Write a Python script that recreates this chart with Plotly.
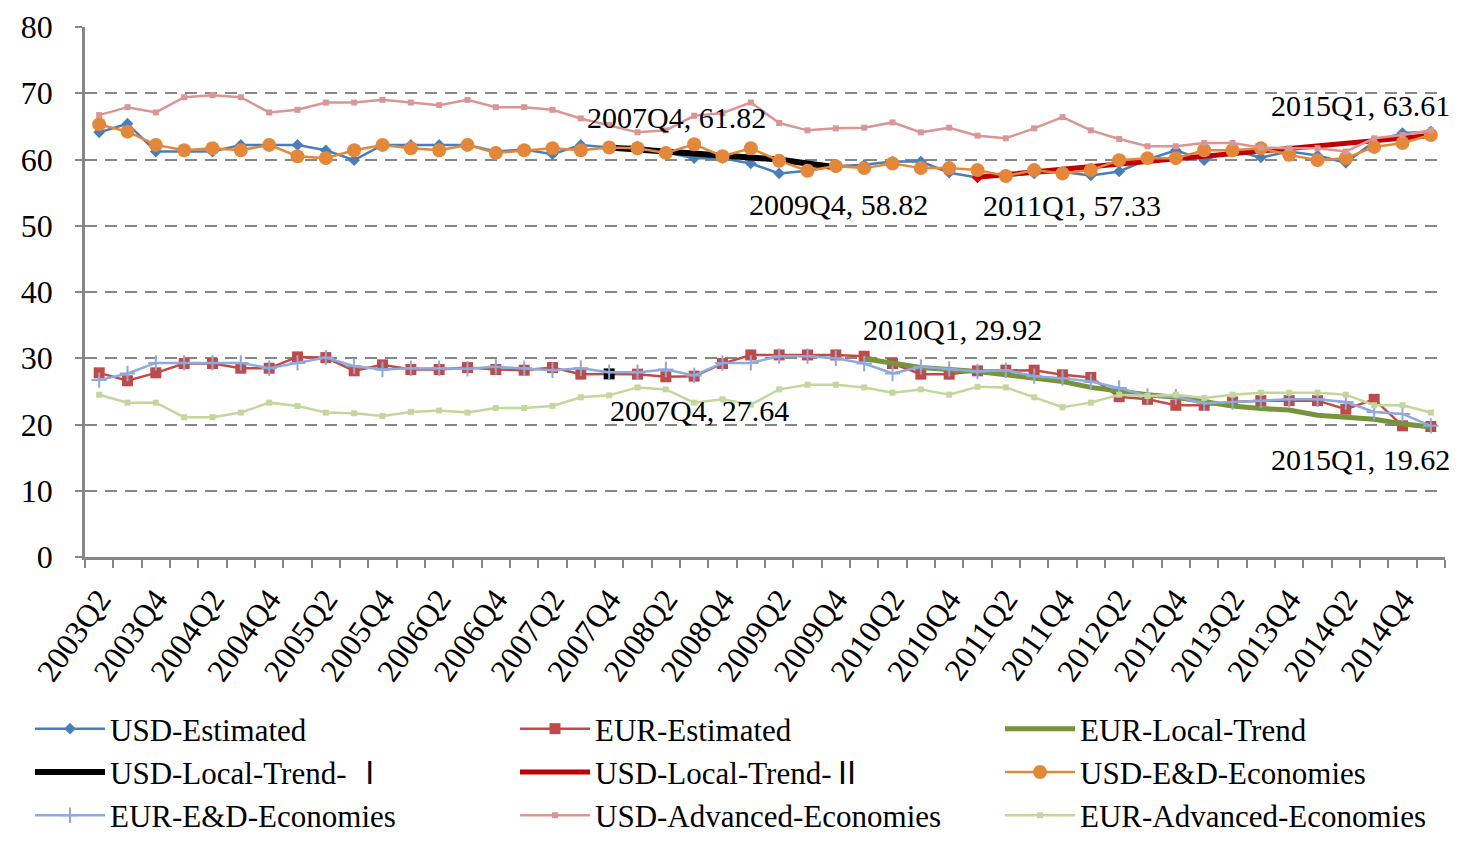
import plotly.graph_objects as go

# ── data ──────────────────────────────────────────────────────────────────────
quarters = [
    "2003Q2", "2003Q3", "2003Q4", "2004Q1", "2004Q2", "2004Q3", "2004Q4",
    "2005Q1", "2005Q2", "2005Q3", "2005Q4", "2006Q1", "2006Q2", "2006Q3",
    "2006Q4", "2007Q1", "2007Q2", "2007Q3", "2007Q4", "2008Q1", "2008Q2",
    "2008Q3", "2008Q4", "2009Q1", "2009Q2", "2009Q3", "2009Q4", "2010Q1",
    "2010Q2", "2010Q3", "2010Q4", "2011Q1", "2011Q2", "2011Q3", "2011Q4",
    "2012Q1", "2012Q2", "2012Q3", "2012Q4", "2013Q1", "2013Q2", "2013Q3",
    "2013Q4", "2014Q1", "2014Q2", "2014Q3", "2014Q4", "2015Q1",
]

usd_estimated = [64.1, 65.4, 61.2, 61.2, 61.2, 62.2, 62.2, 62.2, 61.4, 59.9,
                 62.2, 62.2, 62.2, 62.2, 61.2, 61.5, 60.8, 62.2, 61.8, 62.0,
                 61.1, 60.2, 60.2, 59.4, 57.9, 58.3, 59.0, 59.2, 59.7, 59.7,
                 58.0, 57.3, 57.5, 57.9, 58.1, 57.6, 58.2, 60.0, 61.4, 59.9,
                 61.4, 60.3, 61.2, 60.6, 59.5, 62.7, 64.0, 64.2]
eur_estimated = [27.8, 26.6, 27.8, 29.2, 29.2, 28.5, 28.5, 30.2, 30.1, 28.1,
                 29.0, 28.3, 28.3, 28.6, 28.3, 28.2, 28.6, 27.6, 27.64, 27.6,
                 27.2, 27.3, 29.2, 30.5, 30.5, 30.5, 30.5, 30.3, 29.2, 27.6,
                 27.6, 28.1, 28.2, 28.2, 27.5, 27.1, 24.2, 23.8, 22.9, 22.9,
                 23.4, 23.6, 23.6, 23.6, 22.3, 23.8, 19.8, 19.7]
usd_ed = [65.3, 64.2, 62.2, 61.4, 61.7, 61.4, 62.2, 60.5, 60.2, 61.4,
          62.2, 61.7, 61.4, 62.2, 61.0, 61.4, 61.7, 61.4, 61.82, 61.7,
          61.0, 62.3, 60.5, 61.7, 59.8, 58.3, 59.0, 58.7, 59.4, 58.7,
          58.7, 58.4, 57.5, 58.4, 57.9, 58.4, 59.9, 60.2, 60.2, 61.4,
          61.4, 61.7, 60.7, 59.9, 60.2, 61.9, 62.5, 63.7]
eur_ed = [26.7, 27.7, 29.3, 29.3, 29.3, 29.3, 28.5, 29.3, 30.1, 28.8,
          28.3, 28.5, 28.5, 28.4, 28.7, 28.5, 28.2, 28.5, 27.9, 27.9,
          28.3, 27.4, 29.3, 29.3, 30.3, 30.3, 30.0, 29.2, 27.7, 28.7,
          28.4, 28.0, 28.2, 27.3, 27.0, 26.5, 25.5, 24.3, 24.2, 23.2,
          23.4, 23.6, 23.8, 23.8, 23.4, 21.9, 21.6, 19.8]
usd_advanced = [66.7, 67.9, 67.1, 69.4, 69.7, 69.4, 67.1, 67.5, 68.6, 68.6,
                69.0, 68.6, 68.2, 69.0, 67.9, 67.9, 67.5, 66.2, 65.2, 64.1,
                64.4, 66.6, 67.0, 68.6, 65.5, 64.4, 64.7, 64.8, 65.6, 64.1,
                64.8, 63.6, 63.2, 64.7, 66.4, 64.4, 63.1, 62.0, 62.0, 62.5,
                62.5, 61.8, 61.7, 61.7, 61.2, 63.2, 63.7, 64.4]
eur_advanced = [24.5, 23.3, 23.3, 21.1, 21.1, 21.8, 23.3, 22.8, 21.8, 21.7,
                21.3, 21.9, 22.1, 21.8, 22.5, 22.5, 22.8, 24.1, 24.4, 25.6,
                25.3, 23.3, 23.8, 23.0, 25.3, 26.0, 26.0, 25.6, 24.8, 25.3,
                24.5, 25.7, 25.6, 24.1, 22.6, 23.3, 24.5, 24.3, 24.5, 24.0,
                24.5, 24.8, 24.8, 24.8, 24.5, 22.9, 22.9, 21.8]

# local trends (start quarter, values)
usd_trend1_start = "2007Q4"
usd_trend1 = [61.82, 61.5, 61.2, 60.9, 60.7, 60.3, 60.0, 59.4, 58.82]
usd_trend2_start = "2011Q1"
usd_trend2 = [57.33, 57.7, 58.1, 58.5, 58.9, 59.3, 59.7, 60.1, 60.5, 60.9,
              61.3, 61.7, 62.1, 62.5, 62.9, 63.3, 63.61]
eur_trend_start = "2010Q1"
eur_trend = [29.92, 29.2, 28.6, 28.3, 28.0, 27.5, 27.0, 26.5, 25.6, 25.0,
             24.5, 24.1, 23.4, 22.8, 22.4, 22.2, 21.4, 21.1, 20.8, 20.1, 19.62]

# data labels: (quarter, value, xshift, yshift)
labels = [
    ("2007Q4", 61.82, 67, 30),
    ("2009Q4", 58.82, 3, -37),
    ("2011Q1", 57.33, 94, -28),
    ("2015Q1", 63.61, -70, 30),
    ("2010Q1", 29.92, 88, 29),
    ("2007Q4", 27.64, 90, -37),
    ("2015Q1", 19.62, -70, -32),
]

FONT = "Liberation Serif, Noto Sans CJK SC"
W, H = 1464, 826          # page body has an 8px margin
ML, MR, MT, MB = 77, 27, 19, 277
PW = W - ML - MR
idx = {q: i for i, q in enumerate(quarters)}
xs = list(range(len(quarters)))


def trend_x(start, vals):
    s = idx[start]
    return list(range(s, s + len(vals)))


# highlighted points (Excel data-label points)
usd_est_colors = ["#4A7EBB"] * len(quarters)
usd_est_colors[idx["2007Q4"]] = "#E00000"
usd_est_colors[idx["2011Q1"]] = "#E00000"
eur_est_colors = ["#BE4B48"] * len(quarters)
eur_est_colors[idx["2007Q4"]] = "#000000"

fig = go.Figure()

# legend columns: legend (col 1), legend2 (col 2), legend3 (col 3)
fig.add_trace(go.Scatter(
    x=xs, y=usd_estimated, name="USD-Estimated", mode="lines+markers",
    line=dict(color="#4A7EBB", width=2.5), legend="legend",
    marker=dict(symbol="diamond", size=9, color=usd_est_colors),
))
fig.add_trace(go.Scatter(
    x=xs, y=eur_estimated, name="EUR-Estimated", mode="lines+markers",
    line=dict(color="#BE4B48", width=2.5), legend="legend2",
    marker=dict(symbol="square", size=11, color=eur_est_colors),
))
fig.add_trace(go.Scatter(
    x=trend_x(eur_trend_start, eur_trend), y=eur_trend, name="EUR-Local-Trend",
    mode="lines", line=dict(color="#77933C", width=5), legend="legend3",
))
fig.add_trace(go.Scatter(
    x=trend_x(usd_trend1_start, usd_trend1), y=usd_trend1,
    name="USD-Local-Trend- \u2160", mode="lines",
    line=dict(color="#000000", width=6), legend="legend",
))
fig.add_trace(go.Scatter(
    x=trend_x(usd_trend2_start, usd_trend2), y=usd_trend2,
    name="USD-Local-Trend-\u2161", mode="lines",
    line=dict(color="#C00000", width=5), legend="legend2",
))
fig.add_trace(go.Scatter(
    x=xs, y=usd_ed, name="USD-E&D-Economies", mode="lines+markers",
    line=dict(color="#E3883A", width=2.5), legend="legend3",
    marker=dict(symbol="circle", size=14, color="#E3883A"),
))
fig.add_trace(go.Scatter(
    x=xs, y=eur_ed, name="EUR-E&D-Economies", mode="lines+markers",
    line=dict(color="#8EA9DB", width=2.5), legend="legend",
    marker=dict(symbol="cross-thin", size=11, color="#8EA9DB",
                line=dict(color="#8EA9DB", width=2)),
))
fig.add_trace(go.Scatter(
    x=xs, y=usd_advanced, name="USD-Advanced-Economies", mode="lines+markers",
    line=dict(color="#D99694", width=2.5), legend="legend2",
    marker=dict(symbol="square", size=6, color="#D99694"),
))
fig.add_trace(go.Scatter(
    x=xs, y=eur_advanced, name="EUR-Advanced-Economies", mode="lines+markers",
    line=dict(color="#C3D69B", width=2.5), legend="legend3",
    marker=dict(symbol="square", size=6, color="#C3D69B"),
))

for q, v, dx, dy in labels:
    fig.add_annotation(
        x=idx[q], y=v, text=f"{q}, {v:.2f}", showarrow=False,
        xshift=dx, yshift=dy, font=dict(family=FONT, size=30, color="black"),
    )


def legend_col(x_px):
    return dict(
        orientation="v", xref="paper", yref="container",
        x=(x_px - ML) / PW, y=1 - 694 / H, xanchor="left", yanchor="top",
        itemwidth=70, font=dict(family=FONT, size=31),
        traceorder="normal", bgcolor="rgba(0,0,0,0)", borderwidth=0,
    )


fig.update_layout(
    width=W, height=H,
    paper_bgcolor="white", plot_bgcolor="white",
    margin=dict(l=ML, r=MR, t=MT, b=MB),
    font=dict(family=FONT, size=30, color="black"),
    xaxis=dict(
        range=[-0.5, len(quarters) - 0.5], automargin=False,
        tickmode="array", tickvals=xs[::2], ticktext=quarters[::2],
        tickangle=-55, ticks="", ticklabelstandoff=8,
        showgrid=False, zeroline=False,
        showline=True, linecolor="#868686", linewidth=2.5,
        tickfont=dict(family=FONT, size=32),
        minor=dict(tickmode="array",
                   tickvals=[i - 0.5 for i in range(len(quarters) + 1)],
                   ticks="outside", ticklen=8, tickwidth=2,
                   tickcolor="#868686", showgrid=False),
    ),
    yaxis=dict(
        range=[0, 80], dtick=10, tick0=0, automargin=False,
        ticks="outside", ticklen=7, tickwidth=2, tickcolor="#868686",
        ticklabelstandoff=16,
        showline=True, linecolor="#868686", linewidth=2.5,
        showgrid=True, gridcolor="#868686", gridwidth=2, griddash="12px,8px",
        zeroline=False,
        tickfont=dict(family=FONT, size=32),
    ),
    legend=legend_col(22),
    legend2=legend_col(507),
    legend3=legend_col(992),
)

fig.write_html("out.html")
